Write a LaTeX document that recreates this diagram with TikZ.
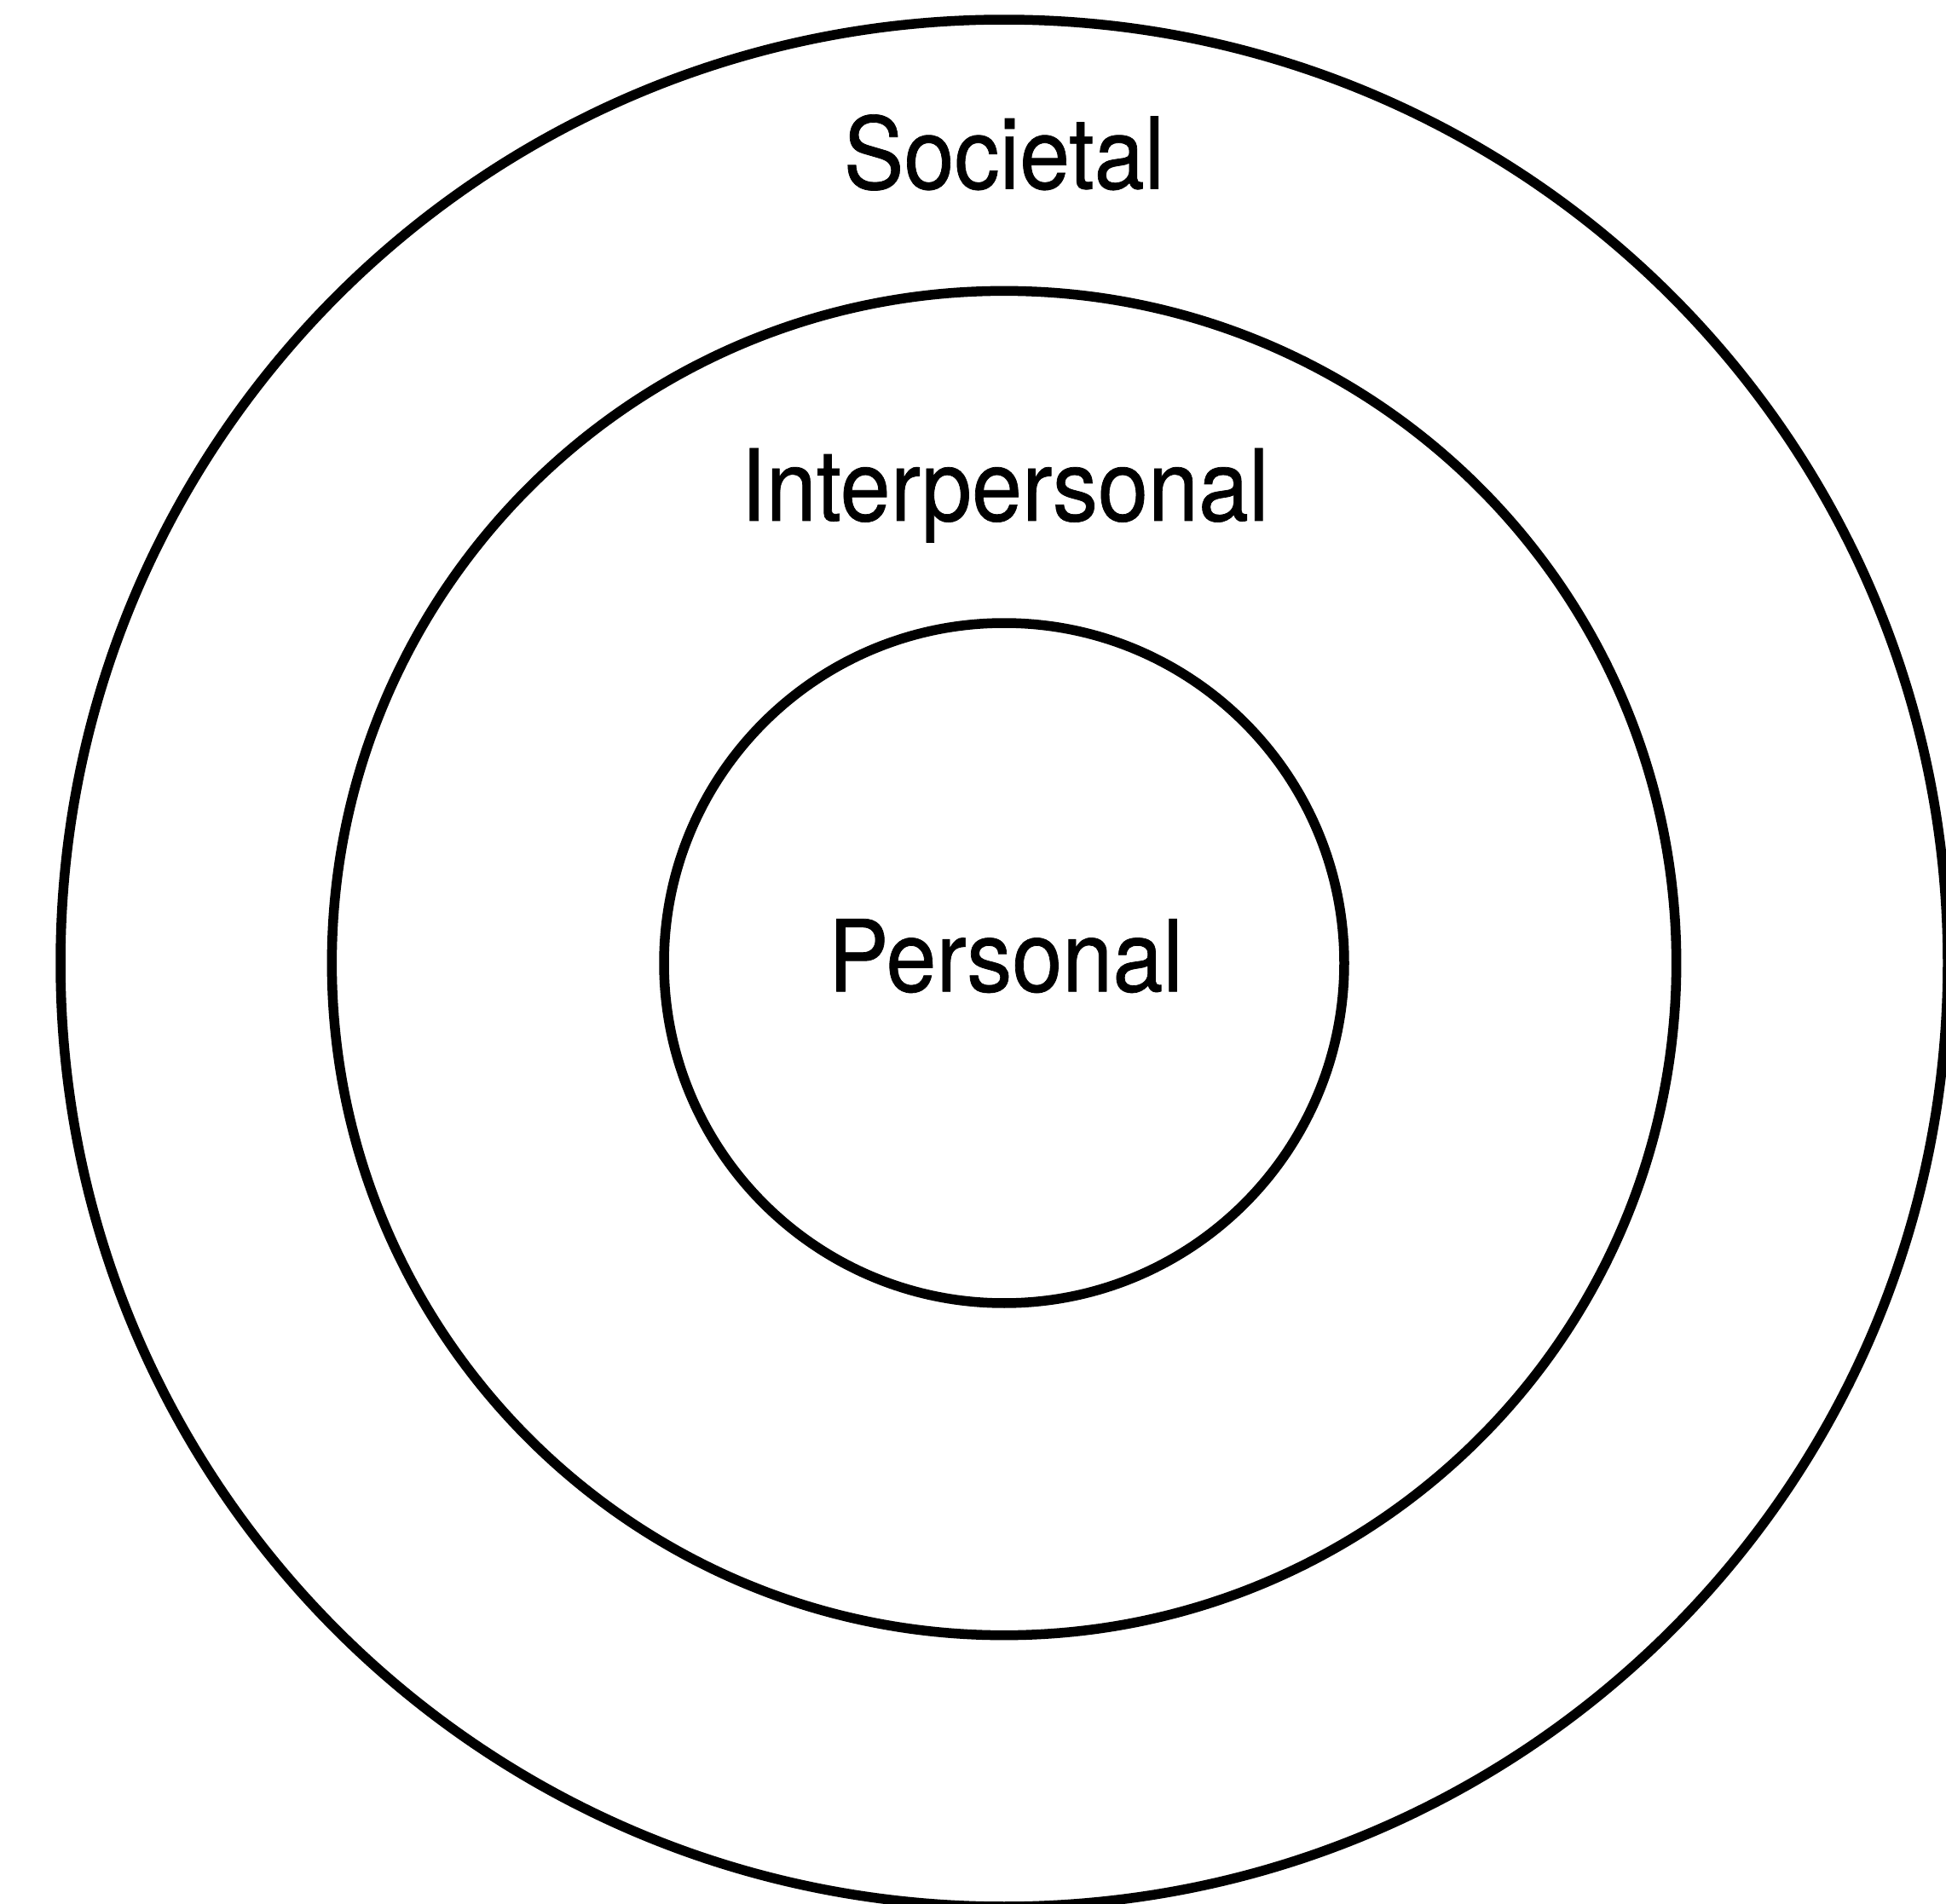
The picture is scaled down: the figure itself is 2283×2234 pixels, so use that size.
\documentclass[tikz,border=0pt]{standalone}
\usepackage{fontspec}
\newfontfamily\labfont[FakeStretch=0.91,FakeBold=0.6]{TeX Gyre Heros}
\begin{document}
\begin{tikzpicture}[x=0.3pt,y=-0.3pt,
  ring/.style={draw=black,line width=3.45pt,circle,inner sep=0pt,fill=none},
  lab/.style={anchor=base,inner sep=0pt,font=\labfont\fontsize{35}{40}\selectfont}]
\useasboundingbox (0,0) rectangle (2283,2234);
\clip (0,0) rectangle (2283,2234);
\fill[white] (0,0) rectangle (2283,2234);
\node[ring,minimum size=664.2pt] (societal) at (1178,1130) {};
\node[ring,minimum size=473.2pt] (interpersonal) at (1178,1130) {};
\node[ring,minimum size=239.4pt] (personal) at (1178,1130) {};
\node[lab] (tsoc) at (1178,221.5) {Societal};
\node[lab] (tint) at (1179,611) {Interpersonal};
\node[lab] (tper) at (1180,1163.3) {Personal};
\end{tikzpicture}
\end{document}
